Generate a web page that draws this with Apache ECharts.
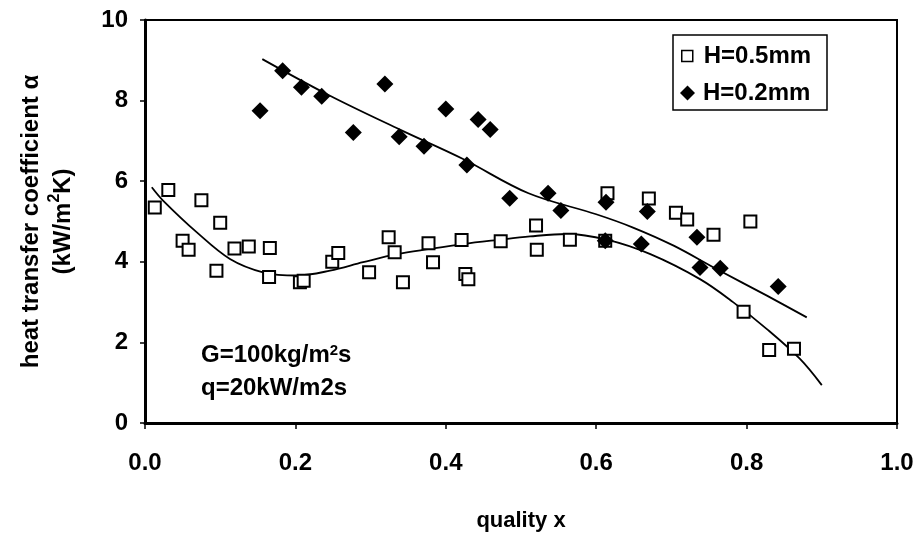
<!DOCTYPE html>
<html>
<head>
<meta charset="utf-8">
<script src="https://cdn.jsdelivr.net/npm/echarts@6/dist/echarts.min.js"></script>
<style>html,body{margin:0;padding:0;background:#fff}#c{width:920px;height:538px}</style>
</head>
<body>
<div id="c"></div>
<script>
// H=0.5mm measured points [quality x, alpha]
var h05 = [[0.013,5.35],[0.031,5.78],[0.050,4.52],[0.058,4.30],[0.075,5.53],[0.100,4.97],[0.095,3.78],[0.119,4.33],[0.138,4.38],[0.166,4.34],[0.165,3.62],[0.206,3.49],[0.211,3.53],[0.249,4.00],[0.257,4.22],[0.298,3.74],[0.324,4.61],[0.332,4.24],[0.343,3.49],[0.377,4.46],[0.383,3.99],[0.421,4.54],[0.426,3.70],[0.430,3.57],[0.473,4.51],[0.520,4.90],[0.521,4.30],[0.565,4.55],[0.612,4.52],[0.615,5.70],[0.670,5.57],[0.706,5.22],[0.721,5.05],[0.756,4.67],[0.805,5.00],[0.796,2.76],[0.830,1.81],[0.863,1.84]];
// H=0.2mm measured points
var h02 = [[0.153,7.75],[0.183,8.74],[0.208,8.33],[0.235,8.11],[0.277,7.21],[0.319,8.41],[0.338,7.10],[0.371,6.87],[0.400,7.79],[0.428,6.40],[0.443,7.53],[0.459,7.28],[0.485,5.58],[0.536,5.70],[0.553,5.27],[0.613,5.48],[0.612,4.52],[0.668,5.25],[0.660,4.44],[0.734,4.61],[0.738,3.86],[0.765,3.84],[0.842,3.39]];
// trend curves
var fit05 = [[0.009,5.85],[0.024,5.52],[0.069,4.73],[0.113,4.07],[0.157,3.74],[0.202,3.66],[0.246,3.78],[0.290,3.99],[0.335,4.19],[0.379,4.32],[0.423,4.44],[0.468,4.54],[0.512,4.63],[0.561,4.69],[0.614,4.55],[0.672,4.19],[0.738,3.57],[0.782,3.00],[0.827,2.33],[0.871,1.59],[0.900,0.94]];
var fit02 = [[0.156,9.03],[0.246,8.12],[0.339,7.28],[0.423,6.55],[0.510,5.70],[0.600,5.18],[0.649,4.85],[0.703,4.40],[0.760,3.82],[0.827,3.16],[0.880,2.62]];
var xTicks = {min:0, max:1, interval:0.2};
var yTicks = {min:0, max:10, interval:2};
var legendNames = ['H=0.5mm','H=0.2mm'];
var noteLines = ['G=100kg/m{sup|2}s','q=20kW/m2s'];

var F = 'Liberation Sans, Arial, sans-serif';
var chart = echarts.init(document.getElementById('c'));
chart.setOption({
  animation:false,
  backgroundColor:'#fff',
  grid:{left:145,right:23,top:20,bottom:115,outerBoundsMode:'none',containLabel:false,show:true,borderColor:'#000',borderWidth:2,backgroundColor:'transparent'},
  xAxis:{type:'value',min:xTicks.min,max:xTicks.max,interval:xTicks.interval,
    name:'quality x',nameLocation:'middle',nameGap:87,
    nameTextStyle:{fontFamily:F,fontWeight:'bold',fontSize:22,color:'#000'},
    axisLine:{lineStyle:{color:'#000',width:3}},
    axisTick:{length:6,lineStyle:{color:'#000',width:1.5}},
    axisLabel:{fontFamily:F,fontWeight:'bold',fontSize:24,color:'#000',margin:28,formatter:function(v){return v.toFixed(1);}},
    splitLine:{show:false}},
  yAxis:{type:'value',min:yTicks.min,max:yTicks.max,interval:yTicks.interval,
    name:'heat transfer coefficient α\n(kW/m{sup|2}K)',nameLocation:'middle',nameGap:66,nameRotate:90,
    nameTextStyle:{fontFamily:F,fontWeight:'bold',fontSize:24,color:'#000',lineHeight:32,
      rich:{sup:{fontFamily:F,fontWeight:'bold',fontSize:16,color:'#000',lineHeight:32,verticalAlign:'top'}}},
    axisLine:{lineStyle:{color:'#000',width:3}},
    axisTick:{length:5,lineStyle:{color:'#000',width:1.5}},
    axisLabel:{fontFamily:F,fontWeight:'bold',fontSize:24,color:'#000',margin:17},
    splitLine:{show:false}},
  legend:[
    {left:681,top:44,padding:0,itemWidth:11,itemHeight:11,
     textStyle:{fontFamily:F,fontWeight:'bold',fontSize:24,color:'#000',padding:[0,0,0,6]},
     data:[{name:legendNames[0],icon:'rect',itemStyle:{color:'#fff',borderColor:'#000',borderWidth:1.5}}]},
    {left:680,top:81,padding:0,itemWidth:15,itemHeight:15,
     textStyle:{fontFamily:F,fontWeight:'bold',fontSize:24,color:'#000',padding:[0,0,0,3]},
     data:[{name:legendNames[1],icon:'diamond',itemStyle:{color:'#000'}}]}
  ],
  graphic:[
    {type:'rect',shape:{x:673,y:35,width:154,height:75},style:{fill:'none',stroke:'#000',lineWidth:1.5},z:10},
    {type:'text',x:201,y:355,style:{text:noteLines[0],verticalAlign:'middle',font:'bold 24px '+F,fill:'#000',
      rich:{sup:{font:'bold 15px '+F,fill:'#000',verticalAlign:'top'}}}},
    {type:'text',x:201,y:388,style:{text:noteLines[1],verticalAlign:'middle',font:'bold 24px '+F,fill:'#000'}}
  ],
  series:[
    {name:'fit05',type:'line',data:fit05,smooth:0.35,showSymbol:false,symbol:'none',lineStyle:{color:'#000',width:1.8},z:1,silent:true},
    {name:'fit02',type:'line',data:fit02,smooth:0.35,showSymbol:false,symbol:'none',lineStyle:{color:'#000',width:1.8},z:1,silent:true},
    {name:legendNames[0],type:'scatter',data:h05,symbol:'rect',symbolSize:12,itemStyle:{color:'#fff',borderColor:'#000',borderWidth:2,opacity:1},z:3},
    {name:legendNames[1],type:'scatter',data:h02,symbol:'diamond',symbolSize:17,itemStyle:{color:'#000',opacity:1},z:4}
  ]
});
</script>
</body>
</html>
